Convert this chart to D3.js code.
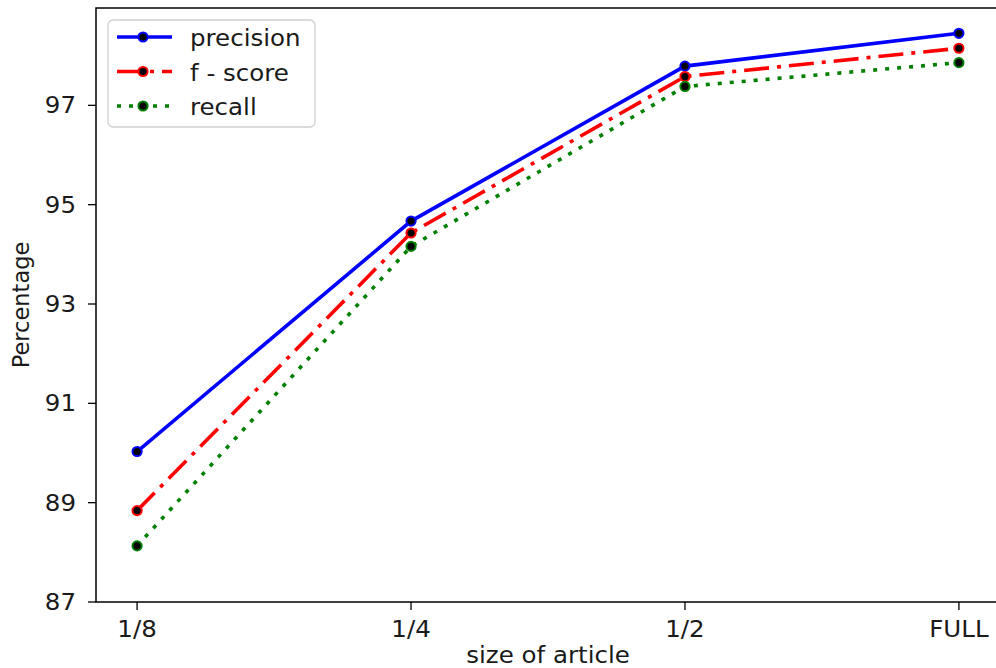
<!DOCTYPE html>
<html>
<head>
<meta charset="utf-8">
<script src="https://cdn.jsdelivr.net/npm/d3@7"></script>
<style>
  body { margin: 0; background: #fff; }
  svg { display: block; font-family: "DejaVu Sans", sans-serif; }
</style>
</head>
<body>
<svg id="chart" width="996" height="668"></svg>
<script>
// data
const sizes = ["1/8", "1/4", "1/2", "FULL"];
const precision = [90.03, 94.67, 97.79, 98.45];
const fscore = [88.84, 94.43, 97.58, 98.15];
const recall = [88.13, 94.16, 97.38, 97.86];
const yTicks = [87, 89, 91, 93, 95, 97];

const series = [
    { name: "precision", values: precision, color: "#0000ff", dash: null },
    { name: "f - score", values: fscore, color: "#ff0000", dash: "25,8,4,8" },
    { name: "recall", values: recall, color: "#008000", dash: "4,8" }
];

let width = 996;
let height = 668;
let margin = { top: 8, right: -4, bottom: 66, left: 96 };
let fontSize = 22.5;
let stretch = 1.09; // text in the picture is a bit wider than tall

let svg = d3.select("#chart");

let x = d3.scalePoint()
    .domain(sizes)
    .range([margin.left, width - margin.right])
    .padding(0.15);

let y = d3.scaleLinear()
    .domain([87, 98.96])
    .range([height - margin.bottom, margin.top]);

function label(g, tx, ty, txt, anchor, rotate) {
    let t = g.append("text")
        .attr("transform", `translate(${tx},${ty}) rotate(${rotate || 0}) scale(${rotate ? 1 : stretch},1)`)
        .attr("text-anchor", anchor)
        .attr("font-size", fontSize)
        .attr("fill", "#1a1a1a")
        .text(txt);
    return t;
}

// lines
let line = d3.line()
    .x((d, i) => x(sizes[i]))
    .y(d => y(d));

series.forEach(s => {
    svg.append("path")
        .datum(s.values)
        .attr("fill", "none")
        .attr("stroke", s.color)
        .attr("stroke-width", 3.6)
        .attr("stroke-dasharray", s.dash)
        .attr("d", line);
});
series.forEach(s => {
    svg.append("g")
        .selectAll("circle")
        .data(s.values)
        .join("circle")
        .attr("cx", (d, i) => x(sizes[i]))
        .attr("cy", d => y(d))
        .attr("r", 4.6)
        .attr("fill", "#000")
        .attr("stroke", s.color)
        .attr("stroke-width", 2);
});

// spines
let axisG = svg.append("g");
axisG.append("rect")
    .attr("x", margin.left)
    .attr("y", margin.top)
    .attr("width", width - margin.right - margin.left)
    .attr("height", height - margin.bottom - margin.top)
    .attr("fill", "none")
    .attr("stroke", "#000")
    .attr("stroke-width", 1.5);

// y ticks
yTicks.forEach(v => {
    axisG.append("line")
        .attr("x1", margin.left - 8).attr("x2", margin.left)
        .attr("y1", y(v)).attr("y2", y(v))
        .attr("stroke", "#000").attr("stroke-width", 1.3);
    label(axisG, margin.left - 20, y(v) + 8, String(v), "end");
});

// x ticks
sizes.forEach(c => {
    axisG.append("line")
        .attr("x1", x(c)).attr("x2", x(c))
        .attr("y1", height - margin.bottom).attr("y2", height - margin.bottom + 8)
        .attr("stroke", "#000").attr("stroke-width", 1.3);
    label(axisG, x(c), height - margin.bottom + 35, c, "middle");
});

// axis titles
label(svg, (margin.left + 1000) / 2, 663, "size of article", "middle");
label(svg, 29, (margin.top + height - margin.bottom) / 2, "Percentage", "middle", -90);

// legend
let legend = svg.append("g");
legend.append("rect")
    .attr("x", 108).attr("y", 20)
    .attr("width", 207).attr("height", 107)
    .attr("rx", 5)
    .attr("fill", "#fff").attr("fill-opacity", 0.8)
    .attr("stroke", "#d0d0d0").attr("stroke-width", 1.3);

series.forEach((s, i) => {
    let cy = 37 + i * 34.5;
    legend.append("line")
        .attr("x1", 117).attr("x2", 172)
        .attr("y1", cy).attr("y2", cy)
        .attr("stroke", s.color)
        .attr("stroke-width", 3.6)
        .attr("stroke-dasharray", s.dash);
    legend.append("circle")
        .attr("cx", 143).attr("cy", cy).attr("r", 4.6)
        .attr("fill", "#000").attr("stroke", s.color).attr("stroke-width", 2);
    label(legend, 190, cy + 9, s.name, "start");
});
</script>
</body>
</html>
